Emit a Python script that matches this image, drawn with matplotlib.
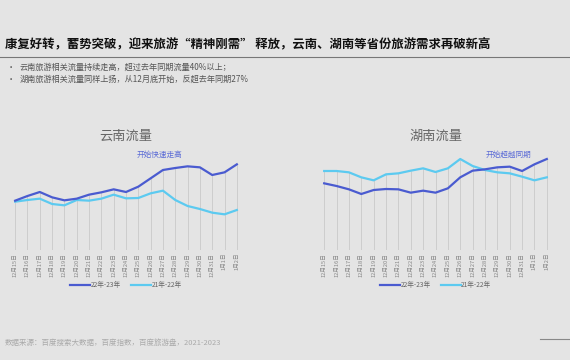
import matplotlib.pyplot as plt
import numpy as np

plt.rcParams['font.family'] = ['Noto Sans CJK SC', 'DejaVu Sans']

# Data (relative search volume)
dates = ['12月15日', '12月16日', '12月17日', '12月18日', '12月19日', '12月20日', '12月21日',
         '12月22日', '12月23日', '12月24日', '12月25日', '12月26日', '12月27日', '12月28日',
         '12月29日', '12月30日', '12月31日', '1月1日', '1月2日']

yunnan_2223 = [158, 172, 184, 168, 159, 164, 176, 183, 192, 184, 200, 225, 250, 256, 261, 258, 235, 243, 267]
yunnan_2122 = [155, 160, 164, 148, 144, 160, 158, 164, 176, 165, 166, 180, 188, 160, 142, 133, 122, 117, 130]
hunan_2223 = [210, 202, 192, 178, 190, 193, 192, 182, 188, 182, 195, 228, 248, 252, 258, 260, 247, 267, 283]
hunan_2122 = [247, 247, 243, 228, 219, 237, 240, 248, 255, 244, 255, 283, 262, 250, 243, 240, 230, 219, 228]

series_names = ['22年-23年', '21年-22年']

DARK = '#4a5bd0'
LIGHT = '#5ccaf0'
BG = '#e4e4e4'

fig = plt.figure(figsize=(5.7, 3.6), dpi=100, facecolor=BG)

# header
fig.text(5 / 570, 1 - 45 / 360, '康复好转，蓄势突破，迎来旅游“精神刚需” 释放，云南、湖南等省份旅游需求再破新高',
         fontsize=8.9, fontweight='bold', color='#111111', va='center', ha='left')
fig.add_artist(plt.Line2D([0, 1], [1 - 57 / 360, 1 - 57 / 360], color='#777777', lw=0.8))
bullets = ['云南旅游相关流量持续走高，超过去年同期流量40%以上；',
           '湖南旅游相关流量同样上扬，从12月底开始，反超去年同期27%']
for i, b in enumerate(bullets):
    y = 1 - (67 + 12 * i) / 360
    fig.text(7 / 570, y, '•', fontsize=6, color='#555555', va='center')
    fig.text(20 / 570, y, b, fontsize=5.9, color='#555555', va='center')

fig.text(5 / 570, 1 - 343 / 360, '数据来源：百度搜索大数据，百度指数，百度旅游盘，2021-2023',
         fontsize=5.4, color='#aaaaaa', va='center')
fig.add_artist(plt.Line2D([540 / 570, 1], [1 - 339 / 360, 1 - 339 / 360], color='#888888', lw=0.8))


def draw_panel(rect, title, s1, s2, note, note_x):
    ax = fig.add_axes(rect)
    ax.set_facecolor(BG)
    x = np.arange(len(dates))
    top = np.maximum(s1, s2)
    ax.vlines(x, 10, top, color='#c9c9c9', lw=0.6, zorder=1)
    l1, = ax.plot(x, s1, color=DARK, lw=1.6, solid_joinstyle='round', zorder=3)
    l2, = ax.plot(x, s2, color=LIGHT, lw=1.6, solid_joinstyle='round', zorder=2)
    ax.set_xlim(-0.5, len(dates) - 0.5)
    ax.set_ylim(10, 310)
    ax.set_xticks(x)
    ax.set_xticklabels(dates, rotation=90, fontsize=4.1, color='#888888')
    ax.tick_params(length=0, pad=2)
    ax.set_yticks([])
    for s in ax.spines.values():
        s.set_visible(False)
    ax.text(note_x, 296, note, fontsize=5.5, color='#5b6bd6', ha='center', va='center')
    ax.set_title(title, fontsize=9.5, color='#666666', pad=6, y=1.02)
    ax.legend([l1, l2], series_names, loc='center', bbox_to_anchor=(0.5, -0.35),
              ncol=2, frameon=False, fontsize=4.8, handlelength=3, columnspacing=1.5,
              labelcolor='#666666', handletextpad=0.1)
    return ax


draw_panel([9 / 570, 110 / 360, 234 / 570, 100 / 360], '云南流量', yunnan_2223, yunnan_2122,
           '开始快速走高', 11.7)
draw_panel([318 / 570, 110 / 360, 235 / 570, 100 / 360], '湖南流量', hunan_2223, hunan_2122,
           '开始超越同期', 14.9)

fig.savefig('out.png', dpi=100, facecolor=BG)
